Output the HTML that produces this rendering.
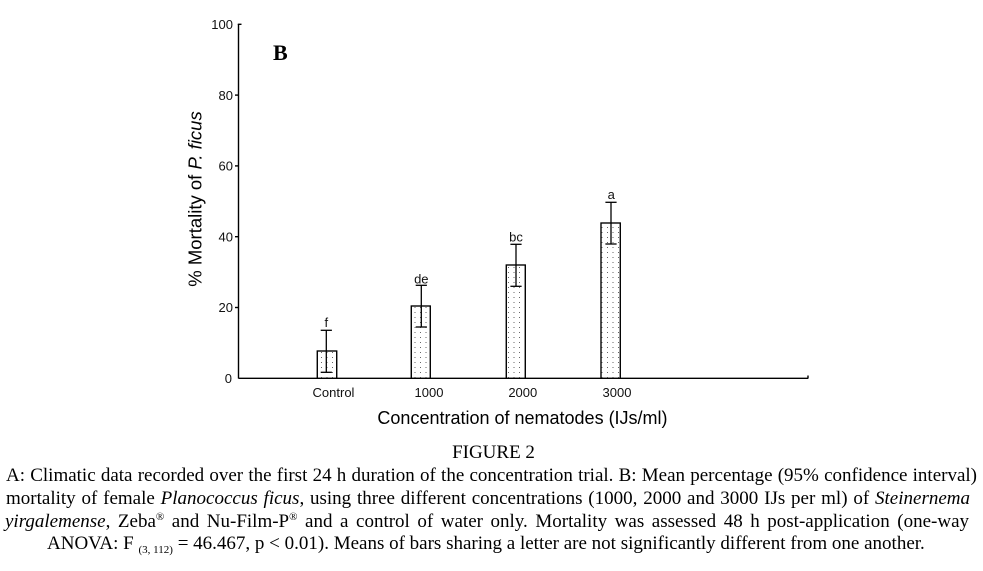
<!DOCTYPE html>
<html>
<head>
<meta charset="utf-8">
<style>
  html,body{margin:0;padding:0;background:#fff;}
  body{width:983px;height:571px;position:relative;overflow:hidden;}
  svg{position:absolute;left:0;top:0;}
  .cap{position:absolute;font-family:"Liberation Serif","Times New Roman",serif;font-size:19px;line-height:22px;color:#000;white-space:nowrap;}
  .just{text-align:justify;text-align-last:justify;white-space:normal;}
  sup{font-size:11px;line-height:0;vertical-align:7px;}
  .sub{font-size:11px;line-height:0;vertical-align:-4px;}
</style>
</head>
<body>
<svg width="983" height="571" viewBox="0 0 983 571" xmlns="http://www.w3.org/2000/svg">
  <defs>
    <pattern id="dots" patternUnits="userSpaceOnUse" width="5.5" height="5" x="0" y="0">
      <rect x="2" y="2" width="1" height="1" fill="#666"/>
    </pattern>
  </defs>
  <!-- axes -->
  <g stroke="#000" stroke-width="1.4" fill="none">
    <line x1="238.5" y1="24" x2="238.5" y2="378.5"/>
    <line x1="237.8" y1="24.3" x2="241.5" y2="24.3"/>
    <line x1="238.5" y1="378.3" x2="808.3" y2="378.3"/>
    <line x1="808" y1="375.5" x2="808" y2="378.3"/>
    <line x1="235" y1="95.1" x2="238.5" y2="95.1"/>
    <line x1="235" y1="165.9" x2="238.5" y2="165.9"/>
    <line x1="235" y1="236.7" x2="238.5" y2="236.7"/>
    <line x1="235" y1="307.5" x2="238.5" y2="307.5"/>
  </g>
  <!-- y tick labels -->
  <g font-family="Liberation Sans, Arial, sans-serif" font-size="13" fill="#111" text-anchor="end">
    <text x="233" y="29">100</text>
    <text x="233" y="99.8">80</text>
    <text x="233" y="170.6">60</text>
    <text x="233" y="241.4">40</text>
    <text x="233" y="312.2">20</text>
    <text x="232" y="383">0</text>
  </g>
  <!-- y title -->
  <text transform="translate(201.5,199) rotate(-90)" text-anchor="middle" font-family="Liberation Sans, Arial, sans-serif" font-size="18.5" fill="#000">% Mortality of <tspan font-style="italic">P. ficus</tspan></text>
  <!-- B label -->
  <text x="273" y="60" font-family="Liberation Serif, Times New Roman, serif" font-weight="bold" font-size="22" fill="#000">B</text>
  <!-- bars -->
  <g stroke="#000" stroke-width="1.2">
    <rect x="317.3" y="351" width="19.4" height="27.3" fill="#fff"/>
    <rect x="317.3" y="351" width="19.4" height="27.3" fill="url(#dots)"/>
    <rect x="411.3" y="306" width="19" height="72.3" fill="#fff"/>
    <rect x="411.3" y="306" width="19" height="72.3" fill="url(#dots)"/>
    <rect x="506.3" y="265" width="19" height="113.3" fill="#fff"/>
    <rect x="506.3" y="265" width="19" height="113.3" fill="url(#dots)"/>
    <rect x="601" y="223" width="19.3" height="155.3" fill="#fff"/>
    <rect x="601" y="223" width="19.3" height="155.3" fill="url(#dots)"/>
  </g>
  <!-- error bars -->
  <g stroke="#000" stroke-width="1.3" fill="none">
    <line x1="326.3" y1="330.3" x2="326.3" y2="372.3"/>
    <line x1="320.7" y1="330.3" x2="331.9" y2="330.3"/>
    <line x1="320.7" y1="372.3" x2="331.9" y2="372.3"/>

    <line x1="421.3" y1="285.3" x2="421.3" y2="327"/>
    <line x1="415.7" y1="285.3" x2="426.9" y2="285.3"/>
    <line x1="415.7" y1="327" x2="426.9" y2="327"/>

    <line x1="516" y1="244.3" x2="516" y2="286.3"/>
    <line x1="510.4" y1="244.3" x2="521.6" y2="244.3"/>
    <line x1="510.4" y1="286.3" x2="521.6" y2="286.3"/>

    <line x1="611" y1="202.3" x2="611" y2="244"/>
    <line x1="605.4" y1="202.3" x2="616.6" y2="202.3"/>
    <line x1="605.4" y1="244" x2="616.6" y2="244"/>
  </g>
  <!-- significance letters -->
  <g font-family="Liberation Sans, Arial, sans-serif" font-size="13" fill="#111" text-anchor="middle">
    <text x="326.3" y="327">f</text>
    <text x="421.3" y="283.5">de</text>
    <text x="516" y="241.5">bc</text>
    <text x="611.3" y="199">a</text>
  </g>
  <!-- x tick labels -->
  <g font-family="Liberation Sans, Arial, sans-serif" font-size="13" fill="#111" text-anchor="middle">
    <text x="333.5" y="397">Control</text>
    <text x="429" y="397">1000</text>
    <text x="522.8" y="397">2000</text>
    <text x="617" y="397">3000</text>
  </g>
  <!-- x title -->
  <text x="522.5" y="424" text-anchor="middle" font-family="Liberation Sans, Arial, sans-serif" font-size="18" fill="#000">Concentration of nematodes (IJs/ml)</text>
</svg>

<div class="cap" style="left:0;width:983px;top:441.6px;text-align:center;padding-left:4px;box-sizing:border-box;">FIGURE 2</div>
<div class="cap just" style="left:6px;width:971px;top:465.4px;">A: Climatic data recorded over the first 24 h duration of the concentration trial. B: Mean percentage (95% confidence interval)</div>
<div class="cap just" style="left:6px;width:964px;top:488.1px;">mortality of female <i>Planococcus ficus</i>, using three different concentrations (1000, 2000 and 3000 IJs per ml) of <i>Steinernema</i></div>
<div class="cap just" style="left:5px;width:964px;top:510.8px;"><i>yirgalemense</i>, Zeba<sup>®</sup> and Nu-Film-P<sup>®</sup> and a control of water only. Mortality was assessed 48 h post-application (one-way</div>
<div class="cap" style="left:47px;top:533.4px;">ANOVA: F <span class="sub">(3, 112)</span> = 46.467, p &lt; 0.01). Means of bars sharing a letter are not significantly different from one another.</div>
</body>
</html>
